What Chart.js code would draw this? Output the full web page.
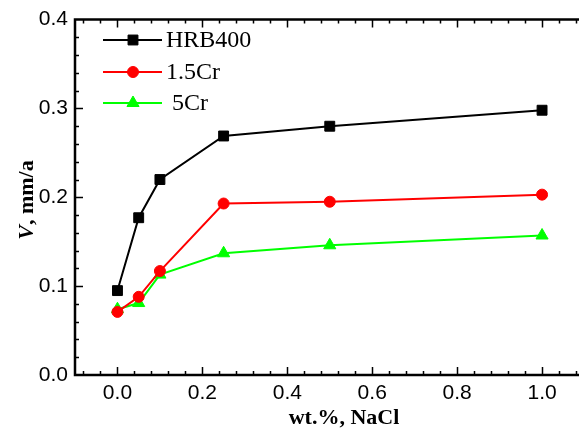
<!DOCTYPE html>
<html>
<head>
<meta charset="utf-8">
<script src="https://cdn.jsdelivr.net/npm/chart.js@4"></script>
<style>
html, body { margin: 0; padding: 0; background: #fff; overflow: hidden; }
</style>
</head>
<body>
<canvas id="myChart" width="579" height="432"></canvas>
<script>
// data
var nacl = [0, 0.05, 0.1, 0.25, 0.5, 1.0];
var hrb400 = [0.095, 0.177, 0.220, 0.269, 0.280, 0.298];
var cr15 = [0.071, 0.088, 0.117, 0.193, 0.195, 0.203];
var cr5 = [0.074, 0.081, 0.113, 0.137, 0.146, 0.157];
var seriesNames = ["HRB400", "1.5Cr", " 5Cr"];
var xTicks = [0, 0.2, 0.4, 0.6, 0.8, 1.0];
var yTicks = [0, 0.1, 0.2, 0.3, 0.4];

function toPoints(ys) {
    return nacl.map(function (x, i) { return { x: x, y: ys[i] }; });
}

function makeSet(label, ys, color, style, r) {
    return {
        label: label,
        data: toPoints(ys),
        borderColor: color,
        backgroundColor: color,
        borderWidth: 2,
        pointStyle: style,
        pointRadius: r,
        pointBorderWidth: 1,
        tension: 0
    };
}

// axis frame with inward ticks (the right side is cut off in the picture)
var framePlugin = {
    id: 'frame',
    afterDraw: function (chart) {
        var ctx = chart.ctx;
        var a = chart.chartArea;
        var xs = chart.scales.x, ys = chart.scales.y;
        ctx.save();
        ctx.strokeStyle = '#000';
        ctx.lineWidth = 2.5;
        ctx.beginPath();
        ctx.moveTo(a.right + 5, a.top);
        ctx.lineTo(a.left, a.top);
        ctx.lineTo(a.left, a.bottom);
        ctx.lineTo(a.right + 5, a.bottom);
        ctx.stroke();
        ctx.lineWidth = 1.5;
        ctx.beginPath();
        for (var i = -2; i <= 27; i++) {
            var v = i * 0.04;
            var len = (i % 5 == 0) ? 8 : 4;
            var px = Math.round(xs.getPixelForValue(v)) + 0.5;
            ctx.moveTo(px, a.bottom); ctx.lineTo(px, a.bottom - len);
            ctx.moveTo(px, a.top); ctx.lineTo(px, a.top + len);
        }
        for (var j = 1; j < 20; j++) {
            var w = j * 0.02;
            var l2 = (j % 5 == 0) ? 8 : 4;
            var py = Math.round(ys.getPixelForValue(w)) + 0.5;
            ctx.moveTo(a.left, py); ctx.lineTo(a.left + l2, py);
        }
        ctx.stroke();

        // axis titles
        ctx.fillStyle = '#000';
        ctx.font = 'bold 22px "Liberation Serif"';
        ctx.textAlign = 'center';
        ctx.textBaseline = 'alphabetic';
        ctx.fillText('wt.%, NaCl', 344, 424);

        ctx.translate(33, 200);
        ctx.rotate(-Math.PI / 2);
        ctx.font = 'italic bold 22px "Liberation Serif"';
        var wV = ctx.measureText('V').width;
        ctx.font = 'bold 22px "Liberation Serif"';
        var wRest = ctx.measureText(', mm/a').width;
        var start = -(wV + wRest) / 2;
        ctx.textAlign = 'left';
        ctx.font = 'italic bold 22px "Liberation Serif"';
        ctx.fillText('V', start, 0);
        ctx.font = 'bold 22px "Liberation Serif"';
        ctx.fillText(', mm/a', start + wV, 0);
        ctx.restore();
    }
};

// legend with line + marker samples
var legendPlugin = {
    id: 'lineLegend',
    afterDatasetsDraw: function (chart) {
        var ctx = chart.ctx;
        var rows = [40, 72, 103];
        ctx.save();
        chart.data.datasets.forEach(function (ds, i) {
            var y = rows[i];
            ctx.strokeStyle = ds.borderColor;
            ctx.fillStyle = ds.backgroundColor;
            ctx.lineWidth = 2;
            ctx.beginPath();
            ctx.moveTo(103, y);
            ctx.lineTo(162, y);
            ctx.stroke();
            ctx.lineWidth = 1;
            Chart.helpers.drawPoint(ctx, { pointStyle: ds.pointStyle, radius: ds.pointRadius, borderWidth: 1, rotation: 0 }, 133, y);
            ctx.fillStyle = '#000';
            ctx.font = '24px "Liberation Serif"';
            ctx.textBaseline = 'middle';
            ctx.textAlign = 'left';
            ctx.fillText(seriesNames[i], 166, y + 1);
        });
        ctx.restore();
    }
};

var tickFont = { family: '"Liberation Sans"', size: 21 };

new Chart('myChart', {
    type: 'line',
    data: {
        datasets: [
            makeSet('HRB400', hrb400, '#000000', 'rect', 7),
            makeSet('1.5Cr', cr15, '#ff0000', 'circle', 5.5),
            makeSet('5Cr', cr5, '#00ff00', 'triangle', 7)
        ]
    },
    options: {
        responsive: false,
        animation: false,
        devicePixelRatio: 1,
        layout: { autoPadding: false, padding: { top: 12, right: 0, left: 0, bottom: 0 } },
        plugins: {
            legend: { display: false },
            tooltip: { enabled: false }
        },
        scales: {
            x: {
                type: 'linear',
                min: -0.1,
                max: 1.087, // axis is cut at the picture edge
                afterBuildTicks: function (s) { s.ticks = xTicks.map(function (v) { return { value: v }; }); },
                afterFit: function (s) { s.height = 57; },
                grid: { display: false, drawTicks: false },
                border: { display: false },
                ticks: {
                    color: '#000', font: tickFont, padding: 6, maxRotation: 0, autoSkip: false,
                    callback: function (v) { return Number(v).toFixed(1); }
                }
            },
            y: {
                min: 0,
                max: 0.4,
                afterBuildTicks: function (s) { s.ticks = yTicks.map(function (v) { return { value: v }; }); },
                afterFit: function (s) { s.width = 75; },
                grid: { display: false, drawTicks: false },
                border: { display: false },
                ticks: {
                    color: '#000', font: tickFont, padding: 7,
                    callback: function (v) { return Number(v).toFixed(1); }
                }
            }
        }
    },
    plugins: [framePlugin, legendPlugin]
});
</script>
</body>
</html>
